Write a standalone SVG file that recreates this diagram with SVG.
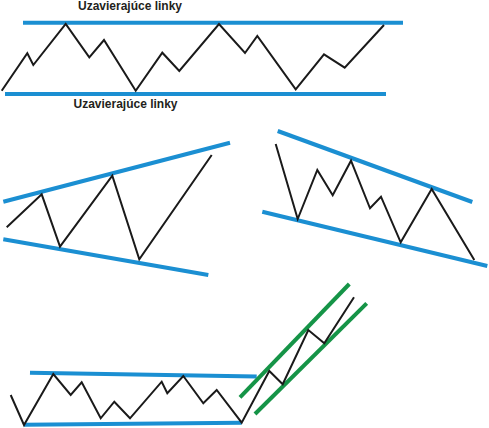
<svg xmlns="http://www.w3.org/2000/svg" width="489" height="428" viewBox="0 0 489 428">
<style>
.b{stroke:#1b8fd2;stroke-width:4;fill:none}
.g{stroke:#159447;stroke-width:4;fill:none}
.k{stroke:#1a1a1a;stroke-width:2;fill:none;stroke-linejoin:miter}
.t{font-family:"Liberation Sans",Arial,sans-serif;font-weight:bold;font-size:12px;fill:#231f20;text-anchor:middle}
</style>
<rect width="489" height="428" fill="#fff"/>
<g id="rectangle">
<text class="t" x="130" y="10">Uzavierajúce linky</text>
<text class="t" x="125.5" y="108">Uzavierajúce linky</text>
<line class="b" x1="23" y1="22.7" x2="403" y2="22.7"/>
<line class="b" x1="5" y1="94" x2="386" y2="94"/>
<polyline class="k" points="1.7,90.7 27.3,53.3 33.3,65 65.7,24 89.3,57.3 104,40 135.7,90.7 162.3,52.7 179.3,71 219,24 245,53 257.3,36 295.7,89.3 324,54.3 344.7,67.7 384,25"/>
</g>
<g id="broadening">
<line class="b" x1="3.3" y1="201.7" x2="230" y2="142.7"/>
<line class="b" x1="3.3" y1="239.3" x2="208.3" y2="275"/>
<polyline class="k" points="6.7,227.3 41.7,194.3 60,246.7 112.3,175.7 139.3,259.3 211.7,155"/>
</g>
<g id="falling-channel">
<line class="b" x1="277.7" y1="131" x2="472.3" y2="202"/>
<line class="b" x1="262.3" y1="211.7" x2="487.3" y2="266"/>
<polyline class="k" points="275.7,144 297.7,219 317.3,170 332.7,195.3 351,160.7 370,208.3 381,196.7 400.7,242.3 431.7,189 474.3,260"/>
</g>
<g id="breakout">
<line class="b" x1="30" y1="372.7" x2="256.7" y2="376.5"/>
<line class="b" x1="24" y1="424.7" x2="241.7" y2="422.7"/>
<line class="g" x1="240" y1="397.3" x2="349.3" y2="284"/>
<line class="g" x1="255" y1="414" x2="366.7" y2="303.3"/>
<polyline class="k" points="10.7,395 24,425 53.3,374 70.7,395 81.7,382.3 100.7,418.3 114.3,401.7 130,418.3 161.7,381.7 167.3,393.3 183.3,376 203.3,403.3 216.7,390 241.7,422.7 269.3,371 282.7,384.3 308.3,330 324.3,343.3 354,297.3"/>
</g>
</svg>
